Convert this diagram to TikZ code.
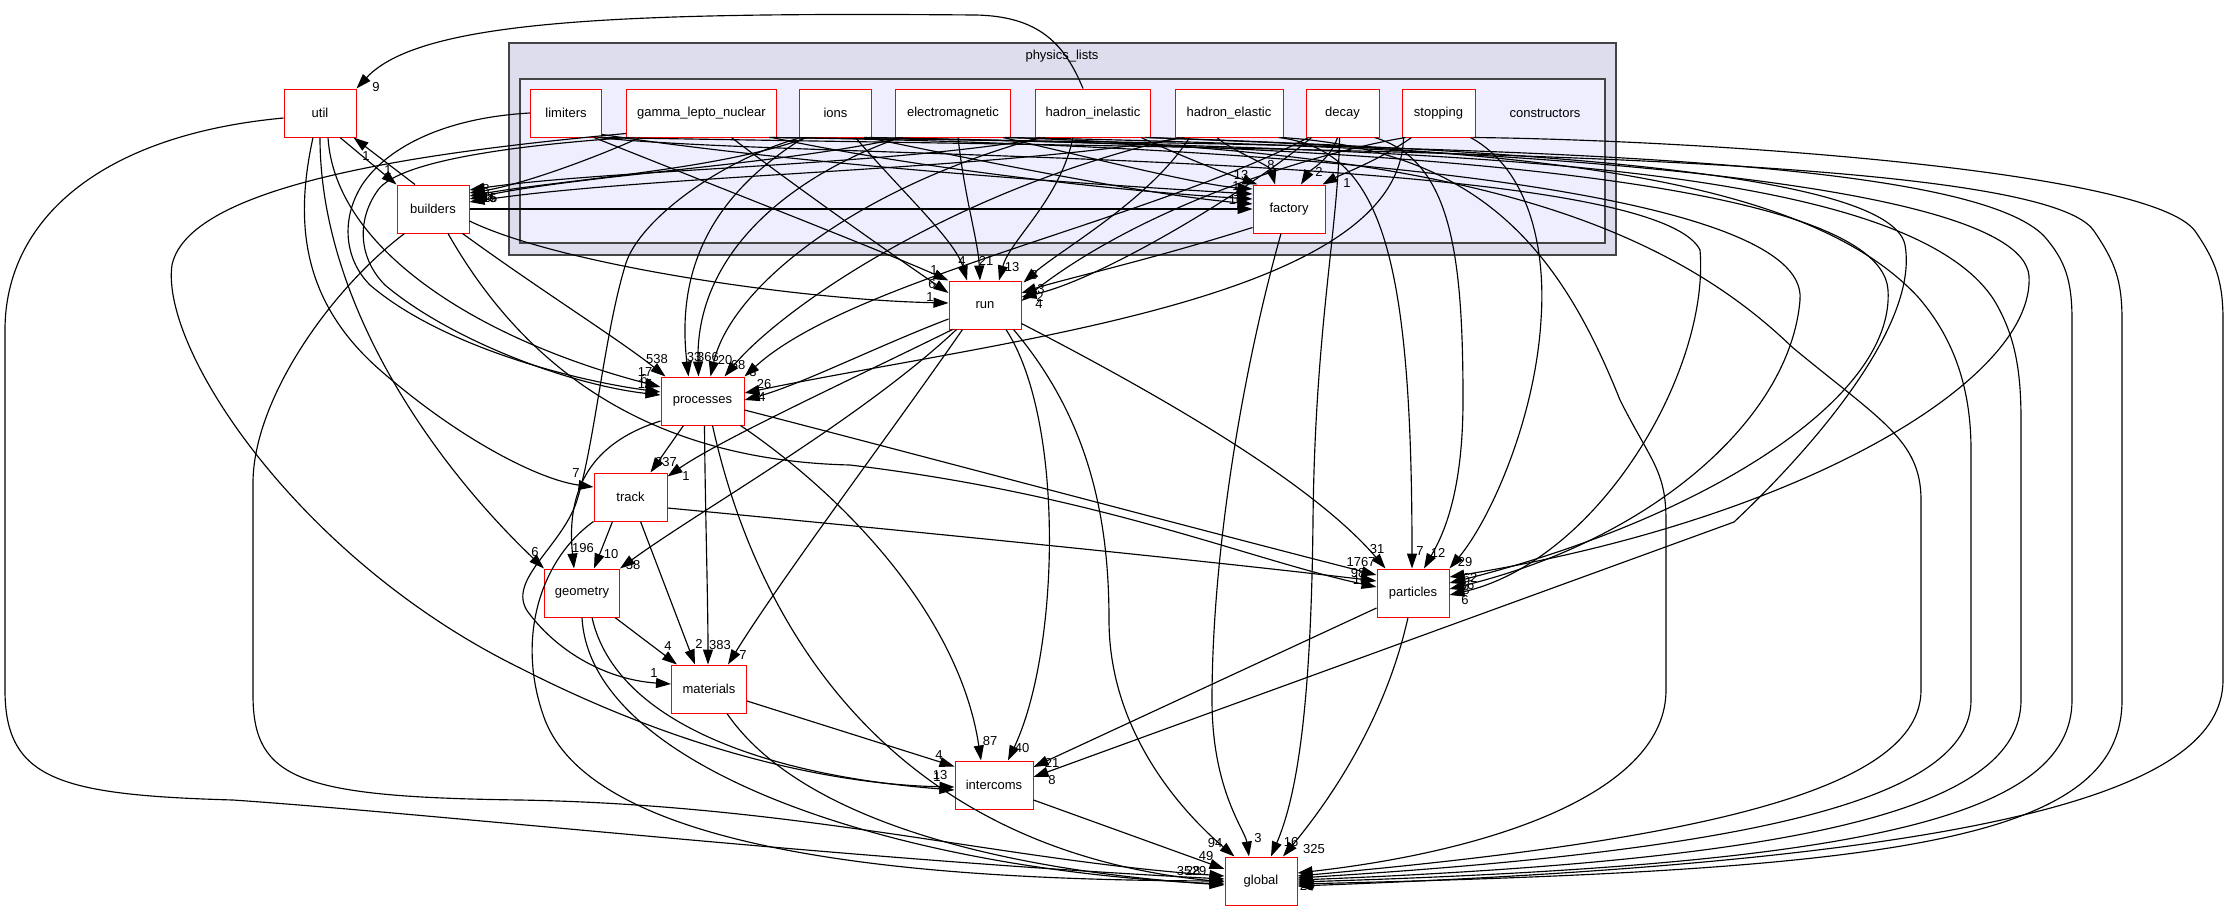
\documentclass[tikz,border=0pt]{standalone}
\usepackage{fontspec}
\setmainfont{Liberation Sans}
\usetikzlibrary{arrows.meta,calc}
\definecolor{outerfill}{HTML}{DDDDEE}
\definecolor{innerfill}{HTML}{EEEEFF}
\definecolor{clborder}{HTML}{444444}
\newcommand{\lab}[3]{\node[lbl] (#1) at (#2) {#3};}
\begin{document}
\begin{tikzpicture}[x=1pt,y=-1pt,
  dirbox/.style={draw=red, fill=white, line width=1pt, minimum height=48pt, inner sep=0pt, font=\fontsize{13}{15}\selectfont},
  edg/.style={line width=1.15pt, -{Triangle[length=15pt,width=10pt]}},
  lbl/.style={inner sep=0pt, font=\fontsize{13}{15}\selectfont},
  cl/.style={draw=clborder, line width=1.6pt}]
\path[use as bounding box] (0,0) rectangle (2229,911);
% clusters
\draw[cl, fill=outerfill] (509,43) rectangle (1616,255);
\node[lbl] (plt) at (1062,56) {physics\_lists};
\draw[cl, fill=innerfill, line width=2.2pt] (520,79) rectangle (1605,243);
\node[lbl] (ctt) at (1545,113) {constructors};
% nodes
\node[dirbox, minimum width=71pt] (limiters) at (566,113) {limiters};
\node[dirbox, minimum width=150pt] (gln) at (701.4,113) {gamma\_lepto\_nuclear};
\node[dirbox, minimum width=72pt] (ions) at (835.5,113) {ions};
\node[dirbox, minimum width=115pt] (em) at (953,113) {electromagnetic};
\node[dirbox, minimum width=115pt] (hin) at (1093,113) {hadron\_inelastic};
\node[dirbox, minimum width=108pt] (hel) at (1229,113) {hadron\_elastic};
\node[dirbox, minimum width=73pt] (decay) at (1342.5,113) {decay};
\node[dirbox, minimum width=73pt] (stopping) at (1438.5,113) {stopping};
\node[dirbox, minimum width=72pt] (factory) at (1289,209) {factory};
\node[dirbox, minimum width=72pt] (util) at (320,113) {util};
\node[dirbox, minimum width=72pt] (builders) at (433,209) {builders};
\node[dirbox, minimum width=72pt] (run) at (985,305) {run};
\node[dirbox, minimum width=83pt] (processes) at (702.5,401) {processes};
\node[dirbox, minimum width=73pt] (track) at (630.5,497) {track};
\node[dirbox, minimum width=75pt] (geometry) at (582,593) {geometry};
\node[dirbox, minimum width=75pt] (materials) at (709,689) {materials};
\node[dirbox, minimum width=78pt] (intercoms) at (994,785) {intercoms};
\node[dirbox, minimum width=72pt] (particles) at (1413,593) {particles};
\node[dirbox, minimum width=72pt] (global) at (1261,881) {global};

% ---- util
\draw[edg] ($(hin.north)+(-10,0)$) .. controls (1065,45) and (1040,16) .. (975,15) .. controls (620,12) and (420,20) .. (util.north east);
\lab{a1}{376,87}{9}
\draw[edg] ($(builders.north)+(-18,0)$) -- ($(util.south east)+(-3,0)$);
\lab{a2}{366,156}{1}
% ---- builders
\draw[edg] ($(util.south)+(20,0)$) -- (builders.north west);
\lab{a3}{388,170}{1}
\draw[edg] ($(gln.south west)+(14,0)$) .. controls (590,160) and (520,185) .. ($(builders.east)+(0,-16)$);
\draw[edg] ($(ions.south west)+(8,0)$) .. controls (720,170) and (560,180) .. ($(builders.east)+(0,-13)$);
\draw[edg] ($(em.south west)+(8,0)$) .. controls (780,165) and (580,175) .. ($(builders.east)+(0,-10)$);
\draw[edg] ($(hin.south west)+(10,0)$) .. controls (900,165) and (600,170) .. ($(builders.east)+(0,-19)$);
\draw[edg] ($(hel.south west)+(10,0)$) .. controls (1000,170) and (650,175) .. ($(builders.east)+(0,-7)$);
\lab{b1}{486,189}{8}
\lab{b2}{487,197}{18}
\lab{b3}{489,198}{16}
\lab{b4}{490,198}{15}
\lab{b5}{484,197}{6}
% ---- factory
\draw[edg] (builders.east) -- (factory.west);
\draw[edg] ($(limiters.south east)+(0,-3)$) .. controls (800,165) and (1100,185) .. ($(factory.west)+(0,-15)$);
\draw[edg] ($(gln.south east)+(-5,0)$) .. controls (900,165) and (1100,190) .. ($(factory.west)+(0,-10)$);
\draw[edg] ($(ions.south east)+(-5,0)$) .. controls (1000,165) and (1150,195) .. ($(factory.west)+(0,-5)$);
\draw[edg] ($(em.south east)+(-8,0)$) .. controls (1100,160) and (1200,185) .. ($(factory.west)+(0,-20)$);
\lab{c1}{1236,186}{1}
\lab{c2}{1237,192}{1}
\lab{c3}{1236,200}{10}
\draw[edg] ($(hin.south east)+(-10,0)$) .. controls (1190,160) and (1230,175) .. ($(factory.north west)+(5,0)$);
\lab{c4}{1241,175}{13}
\draw[edg] ($(hel.south)+(-12,0)$) .. controls (1230,150) and (1270,165) .. ($(factory.north)+(-14,0)$);
\lab{c5}{1271,165}{8}
\draw[edg] ($(decay.south)+(-5,0)$) .. controls (1330,160) and (1310,170) .. ($(factory.north)+(12,0)$);
\lab{c6}{1319,172}{2}
\draw[edg] ($(stopping.south west)+(10,0)$) .. controls (1380,160) and (1340,175) .. ($(factory.north east)+(-3,0)$);
\lab{c7}{1347,183}{1}
% ---- run
\draw[edg] ($(limiters.south east)+(-8,0)$) .. controls (700,180) and (880,250) .. (run.north west);
\lab{d1}{934,270}{1}
\draw[edg] ($(gln.south)+(30,0)$) .. controls (800,190) and (900,260) .. ($(run.west)+(0,-12)$);
\lab{d2}{932,284}{6}
\draw[edg] ($(builders.east)+(0,12)$) .. controls (560,265) and (800,300) .. ($(run.west)+(0,-2)$);
\lab{d3}{930,297}{1}
\draw[edg] ($(ions.south)+(20,0)$) .. controls (900,190) and (955,240) .. ($(run.north)+(-18,0)$);
\lab{d4}{962,261}{4}
\draw[edg] ($(em.south)+(5,0)$) .. controls (965,200) and (978,240) .. ($(run.north)+(-5,0)$);
\lab{d5}{986,261}{21}
\draw[edg] ($(hin.south)+(-20,0)$) .. controls (1060,200) and (1010,240) .. ($(run.north)+(14,0)$);
\lab{d6}{1012,267}{13}
\draw[edg] ($(hel.south west)+(15,0)$) .. controls (1150,200) and (1060,250) .. ($(run.north east)+(2,2)$);
\lab{d7}{1034,275}{8}
\draw[edg] ($(factory.south west)+(0,-6)$) .. controls (1150,260) and (1060,280) .. ($(run.east)+(0,-12)$);
\lab{d8}{1041,289}{3}
\draw[edg] ($(decay.south west)+(6,0)$) .. controls (1250,190) and (1100,280) .. ($(run.east)+(0,-8)$);
\lab{d9}{1040,297}{2}
\draw[edg] ($(stopping.south west)+(4,0)$) .. controls (1330,150) and (1150,200) .. ($(run.east)+(0,-4)$);
\lab{d10}{1039,304}{4}
% ---- processes
\draw[edg] ($(builders.south east)+(-7,0)$) .. controls (540,290) and (620,340) .. ($(processes.north west)+(5,0)$);
\lab{e1}{657,359}{538}
\draw[edg] ($(util.south)+(8,0)$) .. controls (335,250) and (480,340) .. ($(processes.west)+(0,-14)$);
\lab{e2}{645,372}{17}
\draw[edg] (limiters.west) .. controls (440,118) and (385,150) .. (362,185) .. controls (340,220) and (345,260) .. (370,285) .. controls (440,345) and (570,380) .. ($(processes.west)+(0,-9)$);
\lab{e3}{644,379}{6}
\draw[edg] ($(gln.south west)+(3,0)$) .. controls (520,145) and (400,160) .. (378,190) .. controls (355,222) and (360,260) .. (385,285) .. controls (450,340) and (570,385) .. ($(processes.west)+(0,-6)$);
\lab{e4}{645,384}{15}
\draw[edg] ($(ions.south west)+(5,0)$) .. controls (720,190) and (675,260) .. ($(processes.north)+(-14,0)$);
\lab{e5}{694,357}{33}
\draw[edg] ($(em.south west)+(5,0)$) .. controls (780,180) and (695,260) .. ($(processes.north)+(-4,0)$);
\lab{e6}{708,357}{366}
\draw[edg] ($(hin.south west)+(5,0)$) .. controls (850,190) and (730,290) .. ($(processes.north)+(8,0)$);
\lab{e7}{725,360}{20}
\draw[edg] ($(hel.south west)+(5,0)$) .. controls (950,190) and (780,310) .. ($(processes.north east)+(-20,0)$);
\lab{e8}{738,365}{68}
\draw[edg] ($(decay.south west)+(3,0)$) .. controls (1150,220) and (850,280) .. (processes.north east);
\lab{e9}{753,372}{3}
\draw[edg] ($(stopping.south west)+(2,0)$) .. controls (1400,300) and (1000,340) .. ($(processes.east)+(0,-8)$);
\lab{e10}{764,384}{26}
\draw[edg] ($(run.west)+(0,14)$) .. controls (880,345) and (800,385) .. ($(processes.east)+(0,-1)$);
\lab{e11}{762,397}{4}
% ---- track
\draw[edg] ($(processes.south west)+(23,0)$) -- ($(track.north)+(20,0)$);
\lab{f1}{666,462}{337}
\draw[edg] ($(run.south west)+(4,0)$) .. controls (850,380) and (720,440) .. ($(track.north east)+(0,4)$);
\lab{f2}{686,476}{1}
\draw[edg] ($(util.south)+(-7,0)$) .. controls (295,220) and (300,300) .. (380,370) .. controls (460,440) and (540,480) .. ($(track.west)+(0,-10)$);
\lab{f3}{576,473}{7}
% ---- geometry
\draw[edg] (util.south) .. controls (320,300) and (430,460) .. (geometry.north west);
\lab{g1}{535,552}{6}
\draw[edg] ($(processes.west)+(0,20)$) .. controls (600,440) and (565,480) .. ($(geometry.north)+(-8,0)$);
\lab{g2}{583,548}{196}
\draw[edg] ($(track.south)+(-18,0)$) -- ($(geometry.north)+(12,0)$);
\lab{g3}{611,554}{10}
\draw[edg] ($(run.south west)+(8,0)$) .. controls (860,420) and (700,510) .. (geometry.north east);
\lab{g4}{633,565}{58}
% ---- materials
\draw[edg] ($(geometry.south east)+(-5,0)$) -- ($(materials.north west)+(6,0)$);
\lab{h1}{668,646}{4}
\draw[edg] ($(track.south)+(10,0)$) -- ($(materials.north)+(-14,0)$);
\lab{h2}{699,644}{2}
\draw[edg] ($(processes.south)+(2,0)$) .. controls (705,500) and (708,600) .. ($(materials.north)+(-1,0)$);
\lab{h3}{720,645}{383}
\draw[edg] ($(run.south west)+(14,0)$) .. controls (900,420) and (780,580) .. ($(materials.north)+(19,0)$);
\lab{h4}{743,655}{7}
\draw[edg] ($(ions.south west)+(2,0)$) .. controls (720,160) and (640,220) .. (626,263) .. controls (605,330) and (595,440) .. (578,497) .. controls (565,545) and (505,580) .. (528,612) .. controls (560,655) and (610,680) .. ($(materials.west)+(0,-5)$);
\lab{h5}{654,673}{1}
% ---- intercoms
\draw[edg] ($(materials.east)+(0,12)$) -- ($(intercoms.north west)+(0,6)$);
\lab{i1}{939,755}{4}
\draw[edg] ($(gln.south west)+(0,-4)$) .. controls (450,150) and (190,180) .. (172,265) .. controls (160,350) and (300,560) .. (520,668) .. controls (700,760) and (850,785) .. ($(intercoms.west)+(0,2)$);
\lab{i2}{940,775}{13}
\draw[edg] ($(geometry.south)+(10,0)$) .. controls (615,720) and (760,775) .. ($(intercoms.west)+(0,5)$);
\lab{i3}{937,777}{1}
\draw[edg] ($(processes.south east)+(-4,0)$) .. controls (850,500) and (960,620) .. ($(intercoms.north)+(-13,0)$);
\lab{i4}{990,741}{87}
\draw[edg] ($(run.south)+(21,0)$) .. controls (1065,420) and (1060,650) .. ($(intercoms.north)+(14,0)$);
\lab{i5}{1022,748}{40}
\draw[edg] ($(particles.west)+(0,15)$) -- ($(intercoms.east)+(0,-18)$);
\lab{i6}{1052,763}{21}
\draw[edg] ($(hin.south east)+(-3,0)$) .. controls (1500,150) and (1890,170) .. (1905,245) .. controls (1920,330) and (1800,460) .. (1734,522) -- ($(intercoms.east)+(0,-8)$);
\lab{i7}{1052,780}{8}
% ---- particles
\draw[edg] ($(run.south east)+(0,-6)$) .. controls (1150,390) and (1310,480) .. ($(particles.north west)+(9,0)$);
\lab{j1}{1377,549}{31}
\draw[edg] ($(processes.east)+(0,9)$) .. controls (900,450) and (1200,530) .. ($(particles.west)+(0,-18)$);
\lab{j2}{1361,562}{1767}
\draw[edg] ($(track.east)+(0,11)$) .. controls (900,530) and (1200,560) .. ($(particles.west)+(0,-12)$);
\lab{j3}{1358,573}{98}
\draw[edg] ($(builders.south)+(15,0)$) .. controls (520,360) and (640,460) .. (850,465) .. controls (1100,495) and (1250,560) .. ($(particles.west)+(0,-6)$);
\lab{j4}{1360,580}{10}
\draw[edg] ($(hel.south east)+(-5,0)$) .. controls (1380,150) and (1412,250) .. ($(particles.north)+(-1,0)$);
\lab{j5}{1420,551}{7}
\draw[edg] ($(decay.south east)+(-5,0)$) .. controls (1450,160) and (1463,250) .. (1463,400) .. controls (1463,500) and (1440,540) .. ($(particles.north)+(11,0)$);
\lab{j6}{1438,553}{12}
\draw[edg] ($(stopping.south east)+(-5,0)$) .. controls (1530,170) and (1546,250) .. (1541,320) .. controls (1535,420) and (1490,520) .. (particles.north east);
\lab{j7}{1465,562}{29}
\draw[edg] ($(em.south east)+(-3,0)$) .. controls (1400,145) and (2020,170) .. (2029,276) .. controls (2035,380) and (1800,520) .. ($(particles.east)+(0,-16)$);
\lab{j8}{1470,578}{62}
\draw[edg] ($(ions.south east)+(-3,0)$) .. controls (1300,145) and (1880,170) .. (1888,290) .. controls (1895,400) and (1700,520) .. ($(particles.east)+(0,-10)$);
\lab{j9}{1467,585}{36}
\draw[edg] ($(gln.south east)+(-3,0)$) .. controls (1300,145) and (1810,190) .. (1800,300) .. controls (1790,420) and (1650,540) .. ($(particles.east)+(0,-4)$);
\lab{j10}{1466,590}{8}
\draw[edg] ($(limiters.south east)+(-4,0)$) .. controls (800,160) and (1650,150) .. (1700,250) .. controls (1710,370) and (1600,560) .. ($(particles.east)+(0,2)$);
\lab{j11}{1465,600}{6}
% ---- global
\draw[edg] ($(run.south east)+(-8,0)$) .. controls (1090,420) and (1109,520) .. (1109,620) .. controls (1109,730) and (1180,810) .. ($(global.north west)+(10,0)$);
\lab{k1}{1215,843}{94}
\draw[edg] ($(intercoms.east)+(0,15)$) -- ($(global.west)+(0,-12)$);
\lab{k2}{1206,856}{49}
\draw[edg] ($(factory.south)+(-8,0)$) .. controls (1240,380) and (1212,560) .. (1212,700) .. controls (1212,790) and (1245,830) .. ($(global.north)+(-12,0)$);
\lab{k3}{1258,838}{3}
\draw[edg] ($(decay.south)+(-3,0)$) .. controls (1338,230) and (1315,330) .. (1313,520) .. controls (1311,720) and (1295,800) .. ($(global.north)+(10,0)$);
\lab{k4}{1291,842}{16}
\draw[edg] ($(particles.south)+(-5,0)$) .. controls (1385,720) and (1330,800) .. ($(global.north)+(22,0)$);
\lab{k5}{1314,849}{325}
\draw[edg] ($(util.west)+(0,5)$) .. controls (100,135) and (5,220) .. (5,330) -- (5,690) .. controls (5,780) and (60,795) .. (233,800) .. controls (450,815) and (850,860) .. ($(global.west)+(0,-2)$);
\draw[edg] ($(builders.south west)+(8,0)$) .. controls (330,290) and (253,400) .. (253,483) -- (253,695) .. controls (253,780) and (300,797) .. (520,800) .. controls (800,805) and (1000,860) .. ($(global.west)+(0,-5)$);
\draw[edg] (track.south west) .. controls (540,560) and (515,640) .. (545,720) .. controls (600,860) and (950,880) .. (global.west);
\draw[edg] (geometry.south) .. controls (590,770) and (900,870) .. ($(global.west)+(0,3)$);
\draw[edg] ($(materials.south)+(18,0)$) .. controls (800,820) and (1000,870) .. ($(global.west)+(0,4)$);
\draw[edg] ($(processes.south)+(10,0)$) .. controls (760,640) and (900,850) .. ($(global.west)+(0,1)$);
\lab{k6}{1184,871}{35}
\lab{k7}{1193,871}{28}
\lab{k8}{1199,871}{29}
\draw[edg] ($(hel.south east)+(-2,0)$) .. controls (1480,150) and (1560,250) .. (1620,400) .. controls (1650,460) and (1666,470) .. (1666,520) -- (1666,690) .. controls (1666,790) and (1500,850) .. ($(global.east)+(0,-8)$);
\draw[edg] ($(em.south east)+(-6,0)$) .. controls (1400,150) and (1640,200) .. (1792,347) .. controls (1880,420) and (1921,440) .. (1921,500) -- (1921,690) .. controls (1921,790) and (1700,840) .. ($(global.east)+(0,-5)$);
\draw[edg] ($(hin.south east)+(-6,0)$) .. controls (1500,150) and (1800,170) .. (1918,297) .. controls (1960,345) and (1971,400) .. (1971,450) -- (1971,700) .. controls (1971,800) and (1750,850) .. ($(global.east)+(0,-3)$);
\draw[edg] ($(ions.south east)+(-8,0)$) .. controls (1400,150) and (1900,155) .. (1994,300) .. controls (2015,335) and (2021,370) .. (2021,420) -- (2021,700) .. controls (2021,810) and (1800,860) .. ($(global.east)+(0,-1)$);
\draw[edg] ($(gln.south east)+(-8,0)$) .. controls (1400,145) and (1960,150) .. (2044,236) .. controls (2065,260) and (2072,280) .. (2072,320) -- (2072,700) .. controls (2072,820) and (1850,865) .. ($(global.east)+(0,1)$);
\draw[edg] (limiters.south east) .. controls (1300,150) and (2040,150) .. (2094,231) .. controls (2115,262) and (2122,280) .. (2122,320) -- (2122,700) .. controls (2122,840) and (1900,870) .. ($(global.east)+(0,3)$);
\draw[edg] ($(stopping.south east)+(-2,0)$) .. controls (1700,140) and (2150,170) .. (2195,231) .. controls (2215,260) and (2223,280) .. (2223,320) -- (2223,680) .. controls (2223,790) and (2000,860) .. ($(global.east)+(0,5)$);
\lab{k9}{1307,886}{28}
\lab{k10}{1308,884}{13}
\end{tikzpicture}
\end{document}
